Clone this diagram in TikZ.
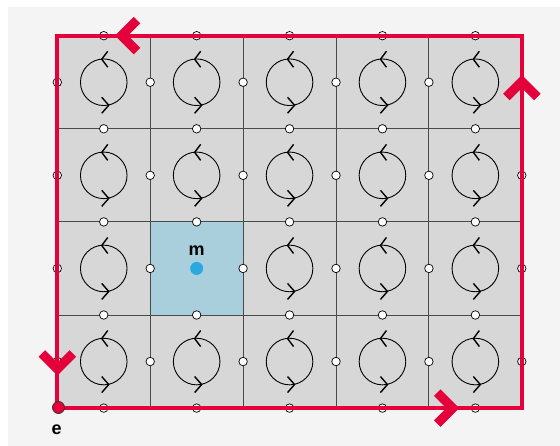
\documentclass[tikz,border=0pt]{standalone}
\usepackage{fontspec}
\setmainfont{Liberation Sans}
\usetikzlibrary{calc}

\definecolor{pagebg}{HTML}{F4F4F4}
\definecolor{cellgray}{HTML}{D7D7D7}
\definecolor{plaqblue}{HTML}{A8CFDB}
\definecolor{dotblue}{HTML}{2AA9E0}
\definecolor{edgered}{HTML}{E3003B}
\definecolor{gridline}{HTML}{4A4A4A}

\tikzset{
  gridrule/.style={draw=gridline, line width=0.9pt},
  loopline/.style={draw=black, line width=0.9pt},
  loopbarb/.style={draw=black, line width=1.4pt, line join=miter},
  qubit/.style={circle, draw=black, fill=white, line width=0.7pt, inner sep=0pt, minimum size=8.5pt},
  border/.style={draw=edgered, line width=4.2pt, line join=miter},
  chevron/.style={draw=edgered, line width=9.2pt, line join=miter, line cap=butt},
  lbl/.style={font=\bfseries\fontsize{18}{18}\selectfont, inner sep=0pt},
}

\begin{document}
\begin{tikzpicture}[x=1pt, y=-1pt]
  \useasboundingbox (0,0) rectangle (560,446);
  \fill[white] (0,0) rectangle (560,446);
  \fill[pagebg] (8,7) rectangle (560,446);

  \def\xo{57.3}\def\yo{35.7}\def\cw{92.9}\def\ch{93.1}

  % corners of the lattice
  \coordinate (TL) at (\xo,\yo);
  \coordinate (TR) at (\xo+5*\cw,\yo);
  \coordinate (BR) at (\xo+5*\cw,\yo+4*\ch);
  \coordinate (BL) at (\xo,\yo+4*\ch);

  % cells
  \fill[cellgray] (TL) rectangle (BR);
  \fill[plaqblue] (\xo+\cw,\yo+2*\ch) rectangle (\xo+2*\cw,\yo+3*\ch);

  % inner grid lines
  \foreach \i in {1,...,4}
    \draw[gridrule] (\xo+\i*\cw,\yo) -- (\xo+\i*\cw,\yo+4*\ch);
  \foreach \j in {1,...,3}
    \draw[gridrule] (\xo,\yo+\j*\ch) -- (\xo+5*\cw,\yo+\j*\ch);

  % counter-clockwise loops in every plaquette but the excited one
  \foreach \i in {0,...,4}
    \foreach \j in {0,...,3}{
      \ifnum\i\j=12\relax\else
        \coordinate (c\i\j) at (\xo+\i*\cw+0.5*\cw,\yo+\j*\ch+0.5*\ch);
        \draw[loopline] (c\i\j) circle (23.3);
        \draw[loopbarb] ($(c\i\j)+(4,-31)$) -- ($(c\i\j)+(-2,-23)$) -- ($(c\i\j)+(4,-15)$);
        \draw[loopbarb] ($(c\i\j)+(-2,15)$) -- ($(c\i\j)+(5,23)$) -- ($(c\i\j)+(-2,31)$);
      \fi
    }

  % qubits on horizontal edges
  \foreach \i in {0,...,4}
    \foreach \j in {0,...,4}
      \node[qubit] (h\i\j) at (\xo+\i*\cw+0.5*\cw,\yo+\j*\ch) {};
  % qubits on vertical edges
  \foreach \i in {0,...,5}
    \foreach \j in {0,...,3}
      \node[qubit] (v\i\j) at (\xo+\i*\cw,\yo+\j*\ch+0.5*\ch) {};

  % boundary string
  \draw[border] (TL) -- (TR) -- (BR) -- (BL) -- cycle;

  % direction marks on the boundary string
  \coordinate (ctop) at (121.5,\yo);
  \draw[chevron] ($(ctop)+(15.5,-15.5)$) -- (ctop) -- ($(ctop)+(15.5,15.5)$);
  \coordinate (cright) at (\xo+5*\cw,81.5);
  \draw[chevron] ($(cright)+(-15.5,15.5)$) -- (cright) -- ($(cright)+(15.5,15.5)$);
  \coordinate (cbottom) at (452.7,\yo+4*\ch);
  \draw[chevron] ($(cbottom)+(-15.5,-15.5)$) -- (cbottom) -- ($(cbottom)+(-15.5,15.5)$);
  \coordinate (cleft) at (\xo,369);
  \draw[chevron] ($(cleft)+(-15.5,-15.5)$) -- (cleft) -- ($(cleft)+(15.5,-15.5)$);

  % excitations
  \node[circle, fill=dotblue, inner sep=0pt, minimum size=13pt] (mdot) at (\xo+1.5*\cw,\yo+2.5*\ch) {};
  \node[lbl] (mlab) at (196.7,251) {m};
  \node[circle, fill=edgered, draw=black!80, line width=0.8pt, inner sep=0pt, minimum size=12pt] (edot) at (58.5,407.5) {};
  \node[lbl] (elab) at (56.7,430) {e};
\end{tikzpicture}
\end{document}
